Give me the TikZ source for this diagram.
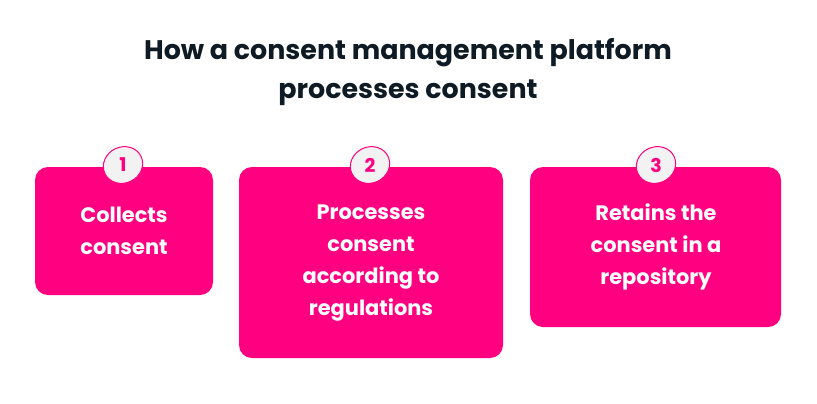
\documentclass[tikz,border=0pt]{standalone}
\usepackage{fontspec}
\setmainfont{Poppins}
\usetikzlibrary{shapes}
\definecolor{cmppink}{HTML}{FF0080}
\definecolor{cmpgrey}{HTML}{F2F2F2}
\definecolor{cmpdark}{HTML}{0E1A24}
\begin{document}
\begin{tikzpicture}[x=1bp,y=-1bp,
  stepbox/.style={fill=cmppink,rounded corners=13bp},
  steptext/.style={text=white,font=\fontsize{21}{32}\selectfont\bfseries,align=center},
  badge/.style={draw=cmppink,line width=1pt,fill=cmpgrey,ellipse,minimum width=40bp,minimum height=36bp,inner sep=0pt,rotate=25},
  badgenum/.style={text=cmppink,font=\fontsize{19}{19}\selectfont\bfseries}]
\useasboundingbox (0,0) rectangle (817,403);

\node (title) at (408,72)[text=cmpdark,font=\fontsize{27}{40}\selectfont\bfseries,align=center] {How a consent management platform\\processes consent};

\fill[stepbox] (35,167) rectangle (213,295);
\fill[stepbox] (239,167) rectangle (503,358);
\fill[stepbox] (530,167) rectangle (781,327);

\node (S1) at (124,231)[steptext] {Collects\\consent};
\node (S2) at (371,263)[steptext] {Processes\\consent\\according to\\regulations};
\node (S3) at (656,247)[steptext] {Retains the\\consent in a\\repository};

\node (B1) at (123,165)[badge] {};
\node (B2) at (370,165)[badge] {};
\node (B3) at (656,165)[badge] {};
\node (N1) at (B1)[badgenum] {1};
\node (N2) at (B2)[badgenum] {2};
\node (N3) at (B3)[badgenum] {3};
\end{tikzpicture}
\end{document}
